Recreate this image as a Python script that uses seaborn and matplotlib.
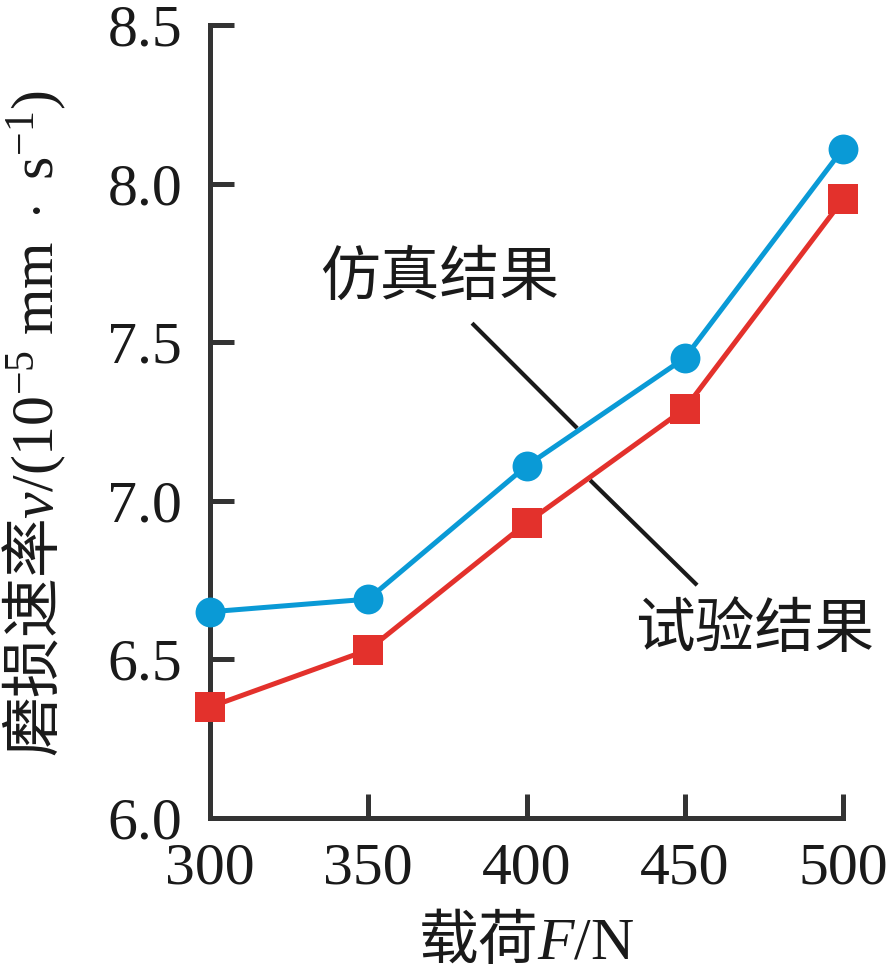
import matplotlib
matplotlib.use('Agg')
import matplotlib.pyplot as plt
import numpy as np
import pandas as pd
import seaborn as sns

# ---- data ----
load_N = [300, 350, 400, 450, 500]
sim_rate = [6.65, 6.69, 7.11, 7.45, 8.11]
exp_rate = [6.35, 6.53, 6.93, 7.29, 7.95]
x_ticks = [300, 350, 400, 450, 500]
y_ticks = [6.0, 6.5, 7.0, 7.5, 8.0, 8.5]
y_tick_labels = ['6.0', '6.5', '7.0', '7.5', '8.0', '8.5']
sim_label = '仿真结果'
exp_label = '试验结果'
x_label = r'载荷$F/\mathrm{N}$'
y_label = r'磨损速率$v/(10^{-5}\ \mathrm{mm}\ \cdot\ \mathrm{s}^{-1})$'

df = pd.DataFrame({'load': load_N, 'sim': sim_rate, 'exp': exp_rate})

# ---- style ----
sns.set_style('ticks')
plt.rcParams['font.family'] = ['Liberation Serif', 'Noto Sans CJK SC', 'DejaVu Sans']
plt.rcParams['mathtext.fontset'] = 'custom'
plt.rcParams['mathtext.rm'] = 'Liberation Serif'
plt.rcParams['mathtext.it'] = 'Liberation Serif:italic'
plt.rcParams['mathtext.bf'] = 'Liberation Serif:bold'

BLUE = '#0A9AD6'
RED = '#E3312C'
AX = '#333333'
CJK = 'Noto Sans CJK SC'

fig = plt.figure(figsize=(8.9, 9.77), dpi=100)
ax = fig.add_axes([210 / 890, 1 - 818 / 977, 633 / 890, 793 / 977])

sns.lineplot(data=df, x='load', y='sim', ax=ax, color=BLUE, linewidth=3.6,
             marker='o', markersize=21.5, markeredgewidth=0, clip_on=False, zorder=3)
sns.lineplot(data=df, x='load', y='exp', ax=ax, color=RED, linewidth=3.6,
             marker='s', markersize=21, markeredgewidth=0, clip_on=False, zorder=3)

ax.set_xlim(300, 500)
ax.set_ylim(6.0, 8.5)
ax.set_xticks(x_ticks)
ax.set_xticklabels([str(t) for t in x_ticks])
ax.set_yticks(y_ticks)
ax.set_yticklabels(y_tick_labels)

for s in ['top', 'right']:
    ax.spines[s].set_visible(False)
for s in ['left', 'bottom']:
    ax.spines[s].set_linewidth(3.6)
    ax.spines[s].set_color(AX)
    ax.spines[s].set_capstyle('projecting')

ax.tick_params(axis='both', direction='in', length=17, width=3.6, color=AX,
               labelsize=43, labelcolor='#1a1a1a')
ax.tick_params(axis='y', pad=20)
ax.tick_params(axis='x', pad=18)
for lab in ax.get_xticklabels() + ax.get_yticklabels():
    lab.set_family('Liberation Serif')

ax.set_xlabel(x_label, fontsize=43, family=CJK, color='#1a1a1a')
ax.set_ylabel(y_label, fontsize=43, family=CJK, color='#1a1a1a')
ax.xaxis.set_label_coords(0.5, -0.118)
ax.yaxis.set_label_coords(-0.224, 0.497)

# annotations with leader lines
ax.plot([382.8, 416.0], [7.56, 7.229], color='#1a1a1a', linewidth=3.0, zorder=2,
        solid_capstyle='butt')
ax.plot([420.1, 453.9], [7.065, 6.734], color='#1a1a1a', linewidth=3.0, zorder=2,
        solid_capstyle='butt')
ax.text(372.7, 7.70, sim_label, fontsize=43, family=CJK, ha='center', va='center',
        color='#1a1a1a')
ax.text(472.2, 6.59, exp_label, fontsize=43, family=CJK, ha='center', va='center',
        color='#1a1a1a')

fig.savefig('out.png', dpi=100)
